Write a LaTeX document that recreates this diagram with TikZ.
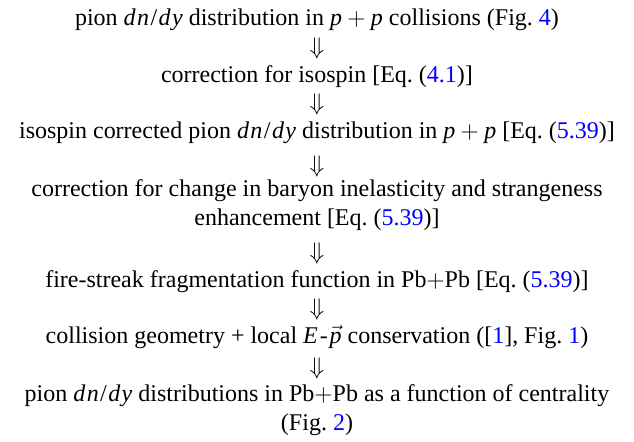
\documentclass[tikz,border=0pt]{standalone}
\usepackage{fontspec}
\setmainfont{Liberation Serif}
\usepackage{xcolor}
\usetikzlibrary{positioning}
\definecolor{reflink}{rgb}{0,0,1}
\newcommand{\rf}[1]{\textcolor{reflink}{#1}}
\newcommand{\vecp}{$\vec{\hbox{\textit{p}}}$}
\newcommand{\dndy}{\textit{d\kern.06em n}\kern.06em/\kern.06em\textit{d\kern.06em y}}
\newcommand{\pp}{\textit{p}\kern.22em$+$\kern.22em\textit{p}}
\newcommand{\pbpb}{Pb$+$Pb}
\tikzset{flowline/.style = {anchor = base, inner sep = 0, align = center, font = \fontsize{12}{14.2}\selectfont},
         downarr/.style = {anchor = base, inner sep = 0, font = \fontsize{12}{14.2}\selectfont}}

\begin{document}
\begin{tikzpicture}[x = 0.5pt, y = -0.5pt]
    \useasboundingbox (0,0) rectangle (634,441);
    \node[flowline] (ppdist) at (317,25) {pion \dndy{} distribution in \pp{} collisions (Fig.~\rf{4})};
    \node[flowline] (isocorr) at (317,82) {correction for isospin [Eq.~(\rf{4.1})]};
    \node[flowline] (isodist) at (317,138) {isospin corrected pion \dndy{} distribution in \pp{} [Eq.~(\rf{5.39})]};
    % two-line nodes: base is the last line
    \node[flowline] (inelcorr) at (317,225) {correction for change in baryon inelasticity and strangeness\\ enhancement [Eq.~(\rf{5.39})]};
    \node[flowline] (fragfun) at (317,287) {fire-streak fragmentation function in \pbpb{} [Eq.~(\rf{5.39})]};
    \node[flowline] (geom) at (317,343) {collision geometry + local \textit{E}\kern.08em-\kern.08em\vecp{} conservation ([\rf{1}], Fig.~\rf{1})};
    \node[flowline] (pbdist) at (317,430) {pion \dndy{} distributions in \pbpb{} as a function of centrality\\ (Fig.~\rf{2})};
    \foreach \y [count = \i] in {54, 110, 172, 259, 315, 374} {
        \node[downarr] (arr\i) at (317,\y) {$\Downarrow$}; % arrow glyph
    }
\end{tikzpicture}
\end{document}
